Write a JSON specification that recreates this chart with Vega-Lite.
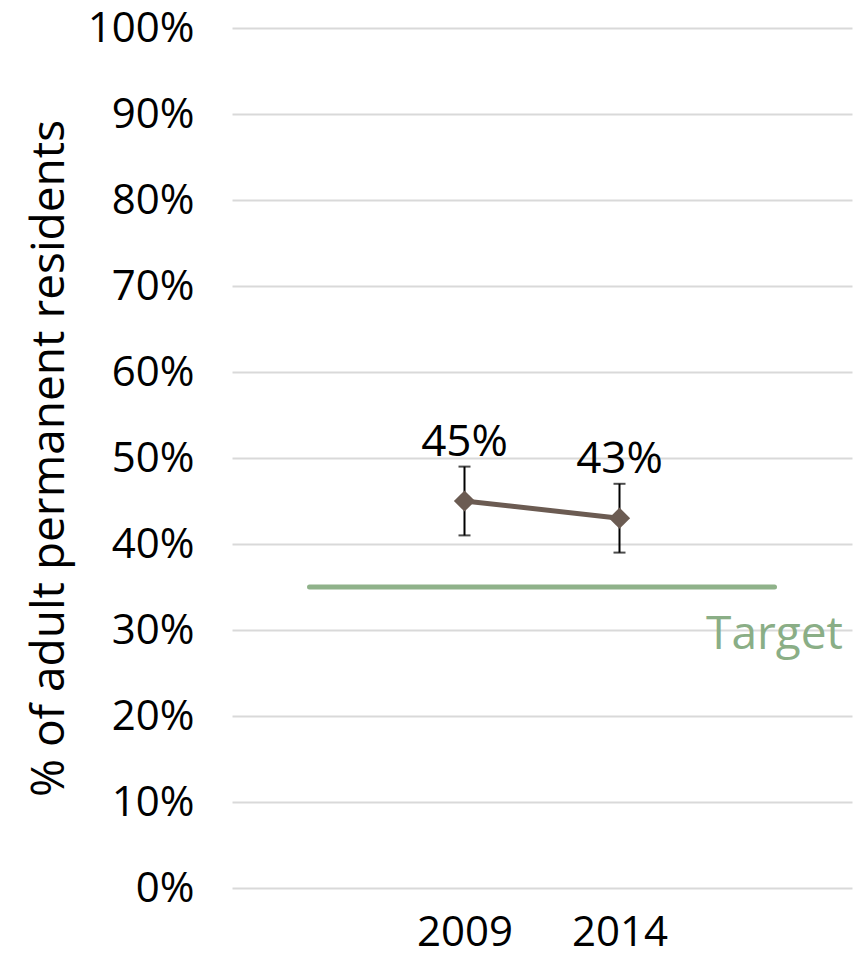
{
  "$schema": "https://vega.github.io/schema/vega-lite/v6.json",
  "width": 620,
  "height": 860,
  "autosize": {"type": "none"},
  "padding": {"left": 232, "top": 28, "right": 10, "bottom": 76},
  "background": "white",
  "config": {
    "view": {"stroke": null},
    "font": "Open Sans"
  },
  "datasets": {
    "series": [
      {"year": "2009", "value": 45, "lo": 41, "hi": 49, "label": "45%"},
      {"year": "2014", "value": 43, "lo": 39, "hi": 47, "label": "43%"}
    ],
    "target": [
      {"year": "start", "target": 35},
      {"year": "end", "target": 35}
    ]
  },
  "encoding": {
    "x": {
      "field": "year",
      "type": "ordinal",
      "scale": {"type": "point", "domain": ["start", "2009", "2014", "end"], "padding": 0.5},
      "axis": {
        "title": null,
        "labelExpr": "datum.value == 'start' || datum.value == 'end' ? '' : datum.value",
        "labelFontSize": 42,
        "labelColor": "black",
        "labelAngle": 0,
        "labelPadding": 24,
        "ticks": false,
        "domain": false,
        "grid": false
      }
    }
  },
  "layer": [
    {
      "data": {"name": "target"},
      "mark": {"type": "line", "color": "#8fb28a", "strokeWidth": 5, "strokeCap": "round"},
      "encoding": {
        "y": {
          "field": "target",
          "type": "quantitative",
          "scale": {"domain": [0, 100]},
          "axis": {
            "title": "% of adult permanent residents",
            "titleFontSize": 46,
            "titleFontWeight": "normal",
            "titleColor": "black",
            "titlePadding": 14,
            "values": [0, 10, 20, 30, 40, 50, 60, 70, 80, 90, 100],
            "labelExpr": "datum.value + '%'",
            "labelFontSize": 42,
            "labelColor": "black",
            "labelPadding": 38,
            "ticks": false,
            "domain": false,
            "grid": true,
            "gridColor": "#d9d9d9",
            "gridWidth": 2
          }
        }
      }
    },
    {
      "data": {"name": "target"},
      "transform": [{"filter": "datum.year == 'end'"}],
      "mark": {"type": "text", "text": "Target", "fontSize": 46, "color": "#8aae86", "dy": 48, "align": "center", "baseline": "middle"},
      "encoding": {
        "y": {"field": "target", "type": "quantitative"}
      }
    },
    {
      "data": {"name": "series"},
      "mark": {"type": "rule", "color": "black", "strokeWidth": 2},
      "encoding": {
        "y": {"field": "lo", "type": "quantitative"},
        "y2": {"field": "hi"}
      }
    },
    {
      "data": {"name": "series"},
      "mark": {"type": "tick", "color": "black", "thickness": 2, "size": 12, "orient": "horizontal"},
      "encoding": {
        "y": {"field": "lo", "type": "quantitative"}
      }
    },
    {
      "data": {"name": "series"},
      "mark": {"type": "tick", "color": "black", "thickness": 2, "size": 12, "orient": "horizontal"},
      "encoding": {
        "y": {"field": "hi", "type": "quantitative"}
      }
    },
    {
      "data": {"name": "series"},
      "mark": {"type": "line", "color": "#6b5b52", "strokeWidth": 5, "point": {"shape": "diamond", "size": 450, "filled": true, "color": "#6b5b52"}},
      "encoding": {
        "y": {"field": "value", "type": "quantitative"}
      }
    },
    {
      "data": {"name": "series"},
      "mark": {"type": "text", "fontSize": 44, "color": "black", "dy": -58, "align": "center", "baseline": "middle"},
      "encoding": {
        "y": {"field": "value", "type": "quantitative"},
        "text": {"field": "label"}
      }
    }
  ]
}
